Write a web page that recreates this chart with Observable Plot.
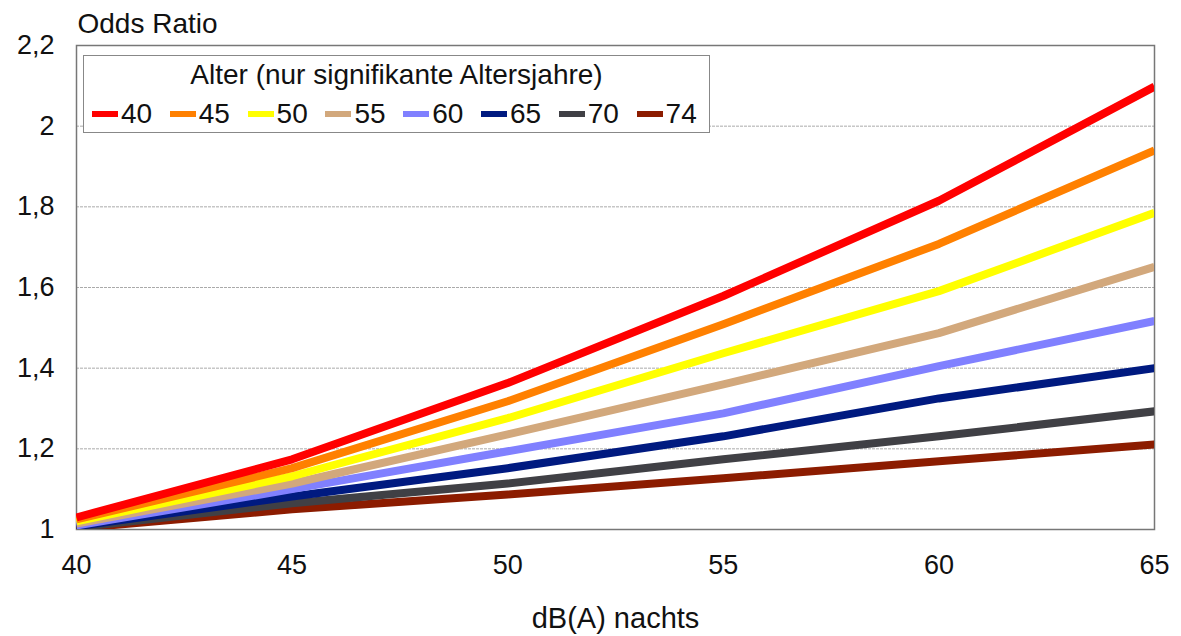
<!DOCTYPE html>
<html>
<head>
<meta charset="utf-8">
<script src="https://cdn.jsdelivr.net/npm/d3@7"></script>
<script src="https://cdn.jsdelivr.net/npm/@observablehq/plot@0.6"></script>
<style>
  html, body { margin: 0; padding: 0; background: #fff; }
  #wrap { position: relative; width: 1181px; height: 636px; font-family: "Liberation Sans", Arial, sans-serif; }
  #legend { position: absolute; left: 83px; top: 55px; width: 627px; height: 78px; border: 1px solid #888; background: #fff; box-sizing: border-box; }
  #legend .title { position: absolute; left: 0; right: 0; top: 3px; text-align: center; font-size: 28px; color: #111; }
  #legend .item { position: absolute; top: 43px; height: 30px; display: flex; align-items: center; font-size: 28px; color: #111; }
  #legend .sw { width: 26px; height: 6px; margin-right: 3px; }
</style>
</head>
<body>
<div id="wrap"></div>
<script>
const dbLevels = [40, 45, 50, 55, 60, 65];
const ages = ["40", "45", "50", "55", "60", "65", "70", "74"];
const colors = ["#ff0000", "#ff8000", "#ffff00", "#d2a87c", "#8080ff", "#001a80", "#404045", "#8c1c00"];
const or40 = [1.030, 1.174, 1.363, 1.579, 1.815, 2.098];
const or45 = [1.025, 1.152, 1.318, 1.509, 1.708, 1.940];
const or50 = [1.020, 1.132, 1.276, 1.437, 1.591, 1.785];
const or55 = [1.015, 1.114, 1.236, 1.360, 1.487, 1.651];
const or60 = [1.010, 1.100, 1.194, 1.288, 1.405, 1.517];
const or65 = [1.008, 1.082, 1.152, 1.231, 1.325, 1.400];
const or70 = [1.005, 1.065, 1.114, 1.174, 1.231, 1.293];
const or74 = [1.003, 1.050, 1.087, 1.127, 1.169, 1.211];
const yTicks = [1, 1.2, 1.4, 1.6, 1.8, 2, 2.2];
const gridValues = [1.2, 1.4, 1.6, 1.8, 2];
const legendTitle = "Alter (nur signifikante Altersjahre)";
const yTitle = "Odds Ratio";
const xTitle = "dB(A) nachts";

const seriesValues = [or40, or45, or50, or55, or60, or65, or70, or74];
const rows = [];
ages.forEach((a, i) => dbLevels.forEach((x, j) => rows.push({age: a, db: x, or: seriesValues[i][j]})));

const fmt = v => String(v).replace(".", ",");

const chart = Plot.plot({
  width: 1181,
  height: 636,
  marginLeft: 76,
  marginRight: 27,
  marginTop: 45,
  marginBottom: 107,
  style: {fontFamily: "Liberation Sans, Arial, sans-serif", fontSize: "27px", color: "#111", background: "#fff"},
  x: {domain: [40, 65], ticks: dbLevels, tickSize: 0, tickPadding: 25, label: null},
  y: {domain: [1, 2.2], ticks: yTicks, tickSize: 0, tickPadding: 22, tickFormat: fmt, label: null},
  color: {domain: ages, range: colors},
  marks: [
    Plot.ruleY(gridValues, {stroke: "#aaa", strokeWidth: 1, strokeDasharray: "3,1"}),
    Plot.frame({stroke: "#777", strokeWidth: 1.5}),
    Plot.line(rows, {x: "db", y: "or", z: "age", stroke: "age", strokeWidth: 8, strokeLinecap: "butt", clip: true, sort: {channel: "z", order: "descending"}}),
    Plot.text([yTitle], {frameAnchor: "top-left", dx: 1, dy: -13, textAnchor: "start", lineAnchor: "bottom", fontSize: 28}),
    Plot.text([xTitle], {frameAnchor: "bottom", dy: 98, lineAnchor: "bottom", fontSize: 29})
  ]
});

const wrap = document.getElementById("wrap");
wrap.appendChild(chart);

const legend = document.createElement("div");
legend.id = "legend";
const t = document.createElement("div");
t.className = "title";
t.textContent = legendTitle;
legend.appendChild(t);
ages.forEach((a, i) => {
  const it = document.createElement("div");
  it.className = "item";
  it.style.left = (8 + i * 77.8) + "px";
  const sw = document.createElement("span");
  sw.className = "sw";
  sw.style.background = colors[i];
  const lb = document.createElement("span");
  lb.textContent = a;
  it.appendChild(sw);
  it.appendChild(lb);
  legend.appendChild(it);
});
wrap.appendChild(legend);
</script>
</body>
</html>
